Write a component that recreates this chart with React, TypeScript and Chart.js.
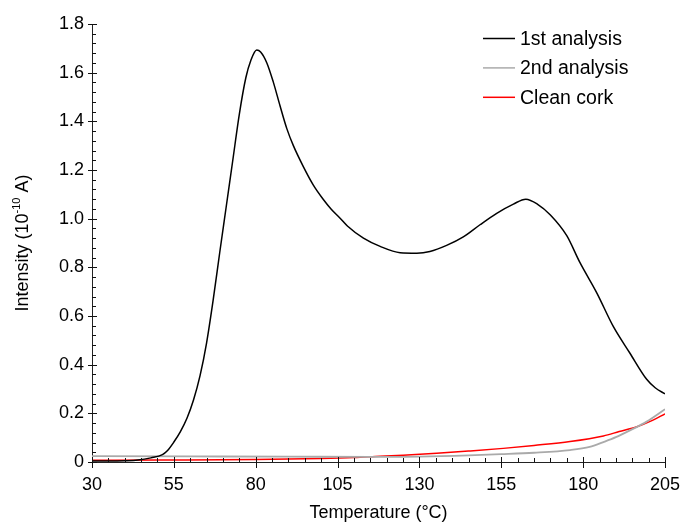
import React, { useEffect, useRef } from "react";
import { Chart, registerables } from "chart.js";

Chart.register(...registerables);

// ---- data ----
const firstT = [30, 35, 40, 44, 48, 51.5, 53, 55, 57, 59, 61, 63, 65, 67, 69, 71, 73, 75, 77, 78.5, 80.3, 81.5, 83.4, 85.4, 87.4, 89.5, 91.5, 94.5, 97.6, 100.6, 103, 105.7, 108, 112.9, 118.0, 124.1, 129.2, 133.2, 138.3, 143.4, 148.5, 153.6, 158.7, 162.5, 166, 170, 175.0, 179.0, 184.2, 189.2, 194.3, 199.4, 202, 205];
const firstI = [0.004, 0.004, 0.005, 0.008, 0.017, 0.03, 0.046, 0.082, 0.125, 0.18, 0.255, 0.355, 0.49, 0.665, 0.86, 1.05, 1.24, 1.43, 1.58, 1.65, 1.693, 1.685, 1.64, 1.56, 1.465, 1.37, 1.3, 1.215, 1.138, 1.08, 1.04, 1.003, 0.97, 0.92, 0.886, 0.86, 0.858, 0.865, 0.89, 0.925, 0.975, 1.022, 1.06, 1.08, 1.06, 1.015, 0.93, 0.82, 0.694, 0.557, 0.447, 0.34, 0.305, 0.28];

const secondT = [30, 60, 90, 115, 130, 145, 155, 165, 176, 182, 186.2, 190, 194.3, 199.4, 205];
const secondI = [0.024, 0.023, 0.022, 0.021, 0.022, 0.027, 0.032, 0.038, 0.049, 0.062, 0.082, 0.102, 0.13, 0.166, 0.217];

const cleanT = [30, 50, 80, 100, 110, 118, 125, 135.3, 145, 155.6, 165, 176, 186.2, 191, 196.4, 201, 205];
const cleanI = [0.007, 0.008, 0.01, 0.014, 0.018, 0.024, 0.028, 0.036, 0.045, 0.056, 0.068, 0.084, 0.107, 0.125, 0.145, 0.17, 0.198];

const seriesLabels = ["1st analysis", "2nd analysis", "Clean cork"];
const seriesColors = ["#000000", "#aaaaaa", "#ff0000"];

const xTickValues = [30, 55, 80, 105, 130, 155, 180, 205];
const yTickValues = [0, 0.2, 0.4, 0.6, 0.8, 1.0, 1.2, 1.4, 1.6, 1.8];
const xMinorStep = 5;
const yMinorStep = 0.04;

const FONT = "'Liberation Sans', Arial, sans-serif";

const toXY = (xs: number[], ys: number[]) => xs.map((x, i) => ({ x, y: ys[i] }));

const ticksPlugin = {
  id: "customTicks",
  afterDraw(chart: any) {
    const ctx = chart.ctx;
    const xs = chart.scales.x;
    const ys = chart.scales.y;
    const { left, bottom } = chart.chartArea;
    ctx.save();
    ctx.strokeStyle = "#111";
    ctx.lineWidth = 1;
    ctx.beginPath();
    for (let v = xTickValues[0]; v <= xTickValues[xTickValues.length - 1] + 1e-6; v += xMinorStep) {
      const px = Math.round(xs.getPixelForValue(v)) + 0.5;
      if (xTickValues.some((t) => Math.abs(t - v) < 1e-6)) {
        ctx.moveTo(px, bottom - 5);
        ctx.lineTo(px, bottom + 6);
      } else {
        ctx.moveTo(px, bottom - 4);
        ctx.lineTo(px, bottom);
      }
    }
    const yMax = yTickValues[yTickValues.length - 1];
    for (let k = 0; k * yMinorStep <= yMax + 1e-6; k++) {
      const v = k * yMinorStep;
      const py = Math.round(ys.getPixelForValue(v)) + 0.5;
      ctx.moveTo(left, py);
      ctx.lineTo(left + 4, py);
    }
    yTickValues.forEach((v) => {
      const py = Math.round(ys.getPixelForValue(v)) + 0.5;
      ctx.moveTo(left - 4, py);
      ctx.lineTo(left + 5, py);
    });
    ctx.stroke();
    ctx.restore();
  },
};

const legendPlugin = {
  id: "customLegend",
  afterDraw(chart: any) {
    const ctx = chart.ctx;
    const { right, top } = chart.chartArea;
    ctx.save();
    ctx.font = `19.5px ${FONT}`;
    ctx.textBaseline = "middle";
    ctx.textAlign = "left";
    chart.data.datasets.forEach((ds: any, i: number) => {
      const y = top + 14.5 + i * 29.4;
      ctx.strokeStyle = ds.borderColor;
      ctx.lineWidth = 1.5;
      ctx.beginPath();
      ctx.moveTo(right - 182, y);
      ctx.lineTo(right - 150, y);
      ctx.stroke();
      ctx.fillStyle = "#000";
      ctx.fillText(ds.label, right - 145, y + 1);
    });
    ctx.restore();
  },
};

const yTitlePlugin = {
  id: "yTitle",
  afterDraw(chart: any) {
    const ctx = chart.ctx;
    const { top, bottom } = chart.chartArea;
    const cy = (top + bottom) / 2;
    const parts = [
      { t: "Intensity (10", size: 18, dy: 0 },
      { t: "-10", size: 11, dy: -6 },
      { t: " A)", size: 18, dy: 0 },
    ];
    ctx.save();
    let total = 0;
    parts.forEach((p) => {
      ctx.font = `${p.size}px ${FONT}`;
      total += ctx.measureText(p.t).width;
    });
    ctx.translate(23, cy);
    ctx.rotate(-Math.PI / 2);
    ctx.fillStyle = "#000";
    ctx.textBaseline = "middle";
    ctx.textAlign = "left";
    let x = -total / 2;
    parts.forEach((p) => {
      ctx.font = `${p.size}px ${FONT}`;
      ctx.fillText(p.t, x, p.dy);
      x += ctx.measureText(p.t).width;
    });
    ctx.restore();
  },
};

export default function App() {
  const ref = useRef<HTMLCanvasElement>(null);
  useEffect(() => {
    if (!ref.current) return;
    const chart = new Chart(ref.current, {
      type: "line",
      data: {
        datasets: [
          { label: seriesLabels[0], data: toXY(firstT, firstI), borderColor: seriesColors[0], backgroundColor: seriesColors[0], borderWidth: 1.5, pointRadius: 0, cubicInterpolationMode: "monotone" },
          { label: seriesLabels[1], data: toXY(secondT, secondI), borderColor: seriesColors[1], backgroundColor: seriesColors[1], borderWidth: 1.8, pointRadius: 0, cubicInterpolationMode: "monotone" },
          { label: seriesLabels[2], data: toXY(cleanT, cleanI), borderColor: seriesColors[2], backgroundColor: seriesColors[2], borderWidth: 1.5, pointRadius: 0, cubicInterpolationMode: "monotone" },
        ],
      },
      options: {
        responsive: false,
        animation: false,
        layout: { padding: { left: 0, right: 15, top: 24, bottom: 0 } },
        plugins: { legend: { display: false }, tooltip: { enabled: false } },
        scales: {
          x: {
            type: "linear",
            min: xTickValues[0],
            max: xTickValues[xTickValues.length - 1],
            afterBuildTicks: (s: any) => { s.ticks = xTickValues.map((v) => ({ value: v })); },
            afterFit: (s: any) => { s.height = 62; s.paddingRight = 0; s.paddingLeft = 0; },
            grid: { display: false, drawTicks: false },
            border: { display: true, color: "#222", width: 1 },
            ticks: { font: { family: FONT, size: 18 }, color: "#000", padding: 12, maxRotation: 0, autoSkip: false },
            title: { display: true, text: "Temperature (°C)", font: { family: FONT, size: 18 }, color: "#000", padding: { top: 1, bottom: 0 } },
          },
          y: {
            type: "linear",
            min: 0,
            max: 1.8,
            afterBuildTicks: (s: any) => { s.ticks = yTickValues.map((v) => ({ value: v })); },
            afterFit: (s: any) => { s.width = 92; s.paddingTop = 0; s.paddingBottom = 0; },
            grid: { display: false, drawTicks: false },
            border: { display: true, color: "#222", width: 1 },
            ticks: { font: { family: FONT, size: 18 }, color: "#000", padding: 8, callback: (v: any) => (v === 0 ? "0" : Number(v).toFixed(1)) },
          },
        },
      },
      plugins: [ticksPlugin, legendPlugin, yTitlePlugin],
    } as any);
    return () => chart.destroy();
  }, []);
  return (
    <div style={{ position: "absolute", left: 0, top: 0, width: 680, height: 524, background: "#fff" }}>
      <canvas ref={ref} width={680} height={524} style={{ display: "block" }} />
    </div>
  );
}
